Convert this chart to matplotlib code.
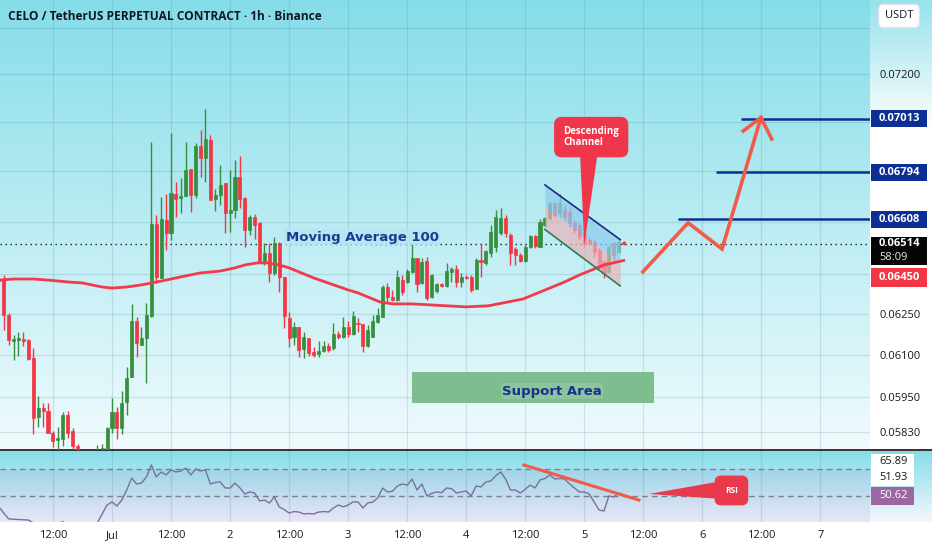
import numpy as np
import matplotlib
matplotlib.use("Agg")
import matplotlib.pyplot as plt
from matplotlib.patches import Polygon, Rectangle
from matplotlib.ticker import NullLocator

plt.rcParams['font.family'] = ['Open Sans', 'DejaVu Sans']

# ---------------- data (hourly candles, t = hours from Jul 1 00:00) ----------------
first_hour = -23
opens = [0.06372, 0.06376, 0.06246, 0.06151, 0.06155, 0.06158, 0.06155, 0.06090,
         0.05881, 0.05913, 0.05902, 0.05826, 0.05802, 0.05806, 0.05888, 0.05833,
         0.05782, 0.05741, 0.05727, 0.05751, 0.05761, 0.05764, 0.05761, 0.05844,
         0.05899, 0.05844, 0.05934, 0.06022, 0.06224, 0.06137, 0.06162, 0.06243,
         0.06591, 0.06384, 0.06606, 0.06555, 0.06708, 0.06692, 0.06700, 0.06808,
         0.06704, 0.06901, 0.06852, 0.06925, 0.06688, 0.06704, 0.06752, 0.06633,
         0.06645, 0.06776, 0.06692, 0.06567, 0.06618, 0.06595, 0.06444, 0.06479,
         0.06403, 0.06517, 0.06388, 0.06235, 0.06166, 0.06202, 0.06122, 0.06162,
         0.06111, 0.06104, 0.06115, 0.06133, 0.06126, 0.06177, 0.06166, 0.06202,
         0.06177, 0.06217, 0.06213, 0.06133, 0.06166, 0.06220, 0.06239, 0.06350,
         0.06313, 0.06302, 0.06376, 0.06369, 0.06407, 0.06460, 0.06365, 0.06448,
         0.06313, 0.06335, 0.06361, 0.06354, 0.06407, 0.06418, 0.06369, 0.06388,
         0.06388, 0.06343, 0.06452, 0.06441, 0.06479, 0.06502, 0.06555, 0.06614,
         0.06548, 0.06494, 0.06471, 0.06448, 0.06502, 0.06544, 0.06502, 0.06587,
         0.06614, 0.06673, 0.06633, 0.06645, 0.06637, 0.06598, 0.06587, 0.06555,
         0.06529, 0.06521, 0.06490, 0.06444, 0.06407, 0.06517, 0.06483, 0.06521]
highs = [0.06388, 0.06395, 0.06253, 0.06173, 0.06184, 0.06184, 0.06158, 0.06126,
         0.05955, 0.05930, 0.05930, 0.05833, 0.05847, 0.05899, 0.05902, 0.05844,
         0.05788, 0.05761, 0.05761, 0.05768, 0.05785, 0.05788, 0.05847, 0.05948,
         0.05916, 0.05972, 0.06058, 0.06287, 0.06239, 0.06202, 0.06291, 0.06917,
         0.06626, 0.06696, 0.06708, 0.06954, 0.06756, 0.06772, 0.06917, 0.06808,
         0.06913, 0.06966, 0.07051, 0.06946, 0.06728, 0.06824, 0.06752, 0.06804,
         0.06844, 0.06860, 0.06696, 0.06626, 0.06630, 0.06598, 0.06517, 0.06517,
         0.06540, 0.06521, 0.06388, 0.06257, 0.06220, 0.06202, 0.06184, 0.06162,
         0.06129, 0.06151, 0.06151, 0.06144, 0.06217, 0.06188, 0.06239, 0.06224,
         0.06261, 0.06235, 0.06213, 0.06209, 0.06246, 0.06272, 0.06358, 0.06365,
         0.06339, 0.06414, 0.06395, 0.06418, 0.06517, 0.06460, 0.06460, 0.06463,
         0.06399, 0.06365, 0.06365, 0.06441, 0.06425, 0.06433, 0.06403, 0.06395,
         0.06395, 0.06460, 0.06517, 0.06490, 0.06587, 0.06645, 0.06653, 0.06626,
         0.06555, 0.06502, 0.06479, 0.06509, 0.06548, 0.06548, 0.06610, 0.06618,
         0.06677, 0.06677, 0.06708, 0.06665, 0.06657, 0.06606, 0.06598, 0.06567,
         0.06540, 0.06529, 0.06498, 0.06452, 0.06509, 0.06521, 0.06529, 0.06525]
lows = [0.06365, 0.06191, 0.06137, 0.06083, 0.06097, 0.06133, 0.06083, 0.05823,
        0.05847, 0.05847, 0.05826, 0.05778, 0.05768, 0.05782, 0.05809, 0.05751,
        0.05727, 0.05707, 0.05700, 0.05717, 0.05734, 0.05748, 0.05751, 0.05826,
        0.05806, 0.05823, 0.05888, 0.06022, 0.06093, 0.06137, 0.06001, 0.06239,
        0.06365, 0.06384, 0.06490, 0.06529, 0.06618, 0.06633, 0.06700, 0.06637,
        0.06692, 0.06776, 0.06756, 0.06684, 0.06641, 0.06665, 0.06555, 0.06559,
        0.06614, 0.06653, 0.06502, 0.06548, 0.06532, 0.06441, 0.06433, 0.06369,
        0.06395, 0.06331, 0.06198, 0.06129, 0.06137, 0.06093, 0.06090, 0.06097,
        0.06093, 0.06093, 0.06111, 0.06111, 0.06118, 0.06158, 0.06162, 0.06166,
        0.06173, 0.06184, 0.06111, 0.06129, 0.06166, 0.06217, 0.06239, 0.06294,
        0.06298, 0.06298, 0.06320, 0.06365, 0.06403, 0.06331, 0.06361, 0.06302,
        0.06309, 0.06328, 0.06350, 0.06350, 0.06369, 0.06350, 0.06350, 0.06380,
        0.06331, 0.06343, 0.06388, 0.06433, 0.06463, 0.06483, 0.06548, 0.06540,
        0.06433, 0.06433, 0.06444, 0.06444, 0.06498, 0.06498, 0.06502, 0.06579,
        0.06606, 0.06618, 0.06618, 0.06606, 0.06579, 0.06555, 0.06529, 0.06502,
        0.06509, 0.06463, 0.06414, 0.06384, 0.06403, 0.06452, 0.06479, 0.06509]
closes = [0.06380, 0.06246, 0.06155, 0.06158, 0.06162, 0.06151, 0.06086, 0.05878,
          0.05913, 0.05902, 0.05826, 0.05799, 0.05809, 0.05888, 0.05826, 0.05782,
          0.05741, 0.05727, 0.05751, 0.05761, 0.05768, 0.05775, 0.05844, 0.05899,
          0.05844, 0.05930, 0.06018, 0.06224, 0.06144, 0.06162, 0.06246, 0.06591,
          0.06388, 0.06610, 0.06555, 0.06712, 0.06688, 0.06700, 0.06804, 0.06704,
          0.06901, 0.06852, 0.06929, 0.06684, 0.06704, 0.06744, 0.06633, 0.06645,
          0.06776, 0.06688, 0.06567, 0.06618, 0.06587, 0.06444, 0.06479, 0.06403,
          0.06517, 0.06388, 0.06243, 0.06162, 0.06202, 0.06118, 0.06166, 0.06107,
          0.06100, 0.06115, 0.06133, 0.06118, 0.06177, 0.06166, 0.06202, 0.06177,
          0.06243, 0.06213, 0.06133, 0.06191, 0.06224, 0.06246, 0.06350, 0.06313,
          0.06302, 0.06388, 0.06331, 0.06410, 0.06460, 0.06361, 0.06444, 0.06309,
          0.06395, 0.06361, 0.06354, 0.06410, 0.06418, 0.06369, 0.06388, 0.06384,
          0.06339, 0.06452, 0.06444, 0.06486, 0.06559, 0.06618, 0.06614, 0.06555,
          0.06479, 0.06471, 0.06448, 0.06502, 0.06544, 0.06506, 0.06598, 0.06614,
          0.06673, 0.06626, 0.06673, 0.06618, 0.06595, 0.06567, 0.06540, 0.06517,
          0.06517, 0.06483, 0.06422, 0.06403, 0.06502, 0.06471, 0.06521, 0.06514]

# moving average 100
ma_hours = [-23, -20, -16, -13, -9, -6, -2, 0, 3, 6, 8, 11, 14, 18, 22, 25, 27, 29.5,
            31.5, 34, 36, 41, 48, 50, 54.5, 57, 61, 68, 72, 76.5, 83.5, 89, 92, 95, 100, 104]
ma_vals = [0.06376, 0.06380, 0.06380, 0.06376, 0.06369, 0.06365, 0.06350, 0.06346,
           0.06350, 0.06358, 0.06365, 0.06376, 0.06388, 0.06403, 0.06410, 0.06422,
           0.06433, 0.06441, 0.06441, 0.06433, 0.06422, 0.06384, 0.06339, 0.06328,
           0.06294, 0.06287, 0.06287, 0.06280, 0.06276, 0.06280, 0.06305, 0.06346,
           0.06369, 0.06395, 0.06433, 0.06450]

# RSI
rsi_hours = [-23, -21, -17, -15, -13, -10, -8, -5, -3, -1, 0, 1, 2, 3, 4, 5, 6, 7, 8, 9,
             10, 11, 12, 13, 14, 15, 16, 17, 18, 19, 20, 21, 22, 23, 24, 25, 26, 27, 28,
             29, 30, 31, 32, 33, 34, 35, 36, 37, 38, 39, 40, 41, 42, 43, 44, 45, 46, 47,
             48, 49, 50, 51, 52, 53, 54, 55, 56, 57, 58, 59, 60, 61, 62, 63, 64, 65, 66,
             67, 68, 69, 70, 71, 72, 73, 74, 75, 76, 77, 78, 79, 80, 81, 82, 83, 84, 85,
             86, 87, 88, 89, 90, 91, 92, 93, 94, 95, 96, 97, 98, 99, 100, 101, 102, 103, 104]
rsi_vals = [41.9, 33.0, 32.2, 28.0, 25.0, 31.0, 24.0, 20.0, 30.0, 43.3, 45.6, 42.6, 47.0,
            54.4, 63.3, 58.9, 59.6, 64.1, 73.0, 64.1, 67.8, 65.6, 69.3, 67.8, 68.5, 70.7,
            65.6, 70.0, 68.5, 69.3, 58.9, 60.0, 60.4, 55.9, 55.9, 59.6, 56.0, 51.5, 53.0,
            52.2, 46.3, 47.0, 44.8, 49.3, 41.9, 40.0, 37.4, 38.5, 38.1, 36.7, 37.0, 36.7,
            38.1, 38.5, 38.1, 41.1, 43.3, 42.0, 43.3, 45.6, 45.6, 41.1, 44.8, 45.5, 48.5,
            55.9, 53.0, 53.5, 57.4, 58.9, 58.0, 62.6, 54.4, 58.9, 50.0, 52.0, 53.0, 52.5,
            55.9, 55.5, 52.2, 53.0, 53.7, 50.0, 57.4, 56.7, 60.4, 61.1, 65.0, 67.8, 62.6,
            54.4, 54.4, 52.2, 55.0, 58.1, 55.9, 61.9, 63.0, 65.6, 62.6, 63.0, 62.6, 59.0,
            55.9, 53.0, 53.0, 51.5, 45.6, 39.6, 38.9, 50.0, 49.3, 52.2, 50.62]

# drawings
target_prices = [0.07013, 0.06794, 0.06608]
target_start = [127.8, 122.8, 115.0]
path_hours = [107.9, 117.1, 124.0, 131.9]
path_prices = [0.06407, 0.06595, 0.06494, 0.07017]
head_hours = [128.3, 131.9, 134.1]
head_prices = [0.06962, 0.07017, 0.06929]
chan_hours = [88.0, 103.3]
chan_upper = [0.06744, 0.06530]
chan_mid = [0.06658, 0.06439]
chan_lower = [0.06569, 0.06354]
support_hours = [61.0, 110.2]
support_prices = [0.05930, 0.06040]
last_price = 0.06514
rsi_trend_hours = [83.7, 107.1]
rsi_trend_vals = [73.0, 47.0]

price_ticks = [0.0740, 0.0720, 0.0700, 0.0680, 0.0660, 0.0640, 0.0625, 0.0610, 0.0595, 0.0583]
price_ticklabels = ['', '0.07200', '', '', '', '', '0.06250', '0.06100', '0.05950', '0.05830']
time_ticks = [-12, 0, 12, 24, 36, 48, 60, 72, 84, 96, 108, 120, 132, 144]
time_labels = ['12:00', 'Jul', '12:00', '2', '12:00', '3', '12:00', '4', '12:00', '5',
               '12:00', '6', '12:00', '7']

GREEN = '#358f3d'
RED = '#f23645'
NAVY = '#0d2f94'
CORAL = '#f15b47'
TXT = '#131722'

W, H = 932, 550
fig = plt.figure(figsize=(W / 100, H / 100), dpi=100)

# ---------------- background ----------------
def vgrad(n, c0, c1):
    f = np.linspace(0, 1, n)[:, None]
    c0 = np.array(c0) / 255.0
    c1 = np.array(c1) / 255.0
    return (c0 + (c1 - c0) * f)[:, None, :]

bg = np.ones((H, W, 3))
bg[0:450, 0:870] = vgrad(450, (133, 221, 233), (240, 251, 253))
bg[0:130, 870:] = vgrad(130, (150, 226, 237), (255, 255, 255))
bg[451:522, :] = vgrad(71, (133, 221, 233), (246, 247, 252))
bg[449:451, :] = np.array([58, 52, 55]) / 255.0
bgax = fig.add_axes([0, 0, 1, 1], zorder=-5)
bgax.imshow(bg, aspect='auto', interpolation='nearest')
bgax.axis('off')

# ---------------- main pane ----------------
ax = fig.add_axes([0, 100 / H, 870 / W, 450 / H])
ax.set_facecolor('none')
ax.set_yscale('log')
ax.set_xlim(-22.76, 154.07)
ax.set_ylim(0.05768, 0.075211)
for s in ax.spines.values():
    s.set_visible(False)

ax.yaxis.tick_right()
ax.set_yticks(price_ticks)
ax.set_yticklabels(price_ticklabels)
ax.yaxis.set_minor_locator(NullLocator())
ax.set_xticks(time_ticks)
ax.tick_params(axis='y', length=0, pad=6.5, labelsize=8, labelcolor=TXT)
ax.tick_params(axis='x', length=0, labelbottom=False)
ax.grid(True, color='#3f6f80', alpha=0.16, lw=0.9, zorder=0)

hours = np.arange(len(opens)) + first_hour
o = np.array(opens)
c = np.array(closes)
cols = [GREEN if cc >= oo else RED for oo, cc in zip(o, c)]
ax.vlines(hours, lows, highs, colors=cols, lw=1, zorder=3)
ax.bar(hours, np.abs(c - o), bottom=np.minimum(o, c), width=0.62, color=cols,
       edgecolor=cols, linewidth=0.5, zorder=3)

# descending channel
ax.fill_between(chan_hours, chan_mid, chan_upper, color='#8fcdee', alpha=0.75, lw=0, zorder=3.5)
ax.fill_between(chan_hours, chan_lower, chan_mid, color='#e9b3ba', alpha=0.7, lw=0, zorder=3.5)
ax.plot(chan_hours, chan_upper, color='#1a2a8a', lw=1.2, zorder=5)
ax.plot(chan_hours, chan_lower, color='#2e7d4f', lw=1.2, zorder=5)

ax.plot(ma_hours, ma_vals, color='#ef3b4c', lw=2, zorder=4)
ax.axhline(last_price, color='#1a1a1a', lw=1, ls=(0, (1, 2.6)), zorder=2)

# support area
ax.fill_between(support_hours, support_prices[0], support_prices[1], color='#7ebd8d', lw=0, zorder=2)
ax.text(89.4, 0.05972, 'Support Area', ha='center', va='center',
        fontsize=9.5, fontweight='bold', color='#1b2f8f', family='DejaVu Sans', zorder=6,
        bbox=dict(boxstyle='square,pad=0.1', fc='#8cc49c', ec='none'))

ax.text(50.9, 0.06540, 'Moving Average 100', ha='center', va='center', fontsize=9.5,
        fontweight='bold', color='#1c3a94', family='DejaVu Sans', zorder=6,
        bbox=dict(boxstyle='square,pad=0.12', fc='#b8e4f0', ec='none', alpha=0.85))

# targets and projected path
ax.hlines(target_prices, target_start, 154.07, color=NAVY, lw=1.8, zorder=6)
ax.plot(path_hours, path_prices, color=CORAL, lw=2.6, solid_joinstyle='miter', zorder=6)
ax.plot(head_hours, head_prices, color=CORAL, lw=2.6, solid_joinstyle='miter', zorder=6)

# descending channel callout
ax.add_patch(Polygon([(95.1, 0.06884), (98.8, 0.06884), (96.0, 0.06509)], closed=True,
                     fc='#f0364a', ec='none', zorder=7))
ax.text(97.4, 0.06937, 'Descending\nChannel', ha='center', va='center', fontsize=7,
        fontweight='bold', color='white', linespacing=1.0, multialignment='left', zorder=8,
        bbox=dict(boxstyle='round,pad=0.95,rounding_size=0.8', fc='#f0364a', ec='none'))

# ---------------- RSI pane ----------------
ar = fig.add_axes([0, 28 / H, 870 / W, 71 / H])
ar.set_facecolor('none')
ar.set_xlim(-22.76, 154.07)
ar.set_ylim(30.74, 83.33)
for s in ar.spines.values():
    s.set_visible(False)
ar.set_yticks([])
ar.set_xticks(time_ticks)
ar.set_xticklabels(time_labels)
ar.tick_params(axis='x', length=0, pad=6, labelsize=8, labelcolor=TXT)
ar.grid(True, axis='x', color='#3f6f80', alpha=0.16, lw=0.9, zorder=0)
ar.axhspan(30, 70, color='#7e57c2', alpha=0.1, lw=0, zorder=0.5)
ar.axhline(70, color='#7d7f8c', lw=1, ls=(0, (4, 3)), zorder=1)
ar.axhline(50, color='#7d7f8c', lw=1, ls=(0, (4, 3)), zorder=1)
ar.plot(rsi_hours, rsi_vals, color='#7a7197', lw=1, zorder=3)
ar.plot(rsi_trend_hours, rsi_trend_vals, color=CORAL, lw=2.2, zorder=4)
ar.add_patch(Polygon([(109.1, 51.5), (124.0, 61.1), (124.0, 47.8)], closed=True,
                     fc='#e83a4c', ec='none', zorder=5))
ar.text(125.9, 54.1, 'RSI', ha='center', va='center', fontsize=6, fontweight='bold',
        color='white', zorder=6,
        bbox=dict(boxstyle='round,pad=1.25,rounding_size=0.8', fc='#e83a4c', ec='none'))

# ---------------- right scale tags ----------------
def tag(ytop, h, text, fc, tc, x0=871, x1=927, ty=None, bold=True):
    fig.add_artist(Rectangle((x0 / W, 1 - (ytop + h) / H), (x1 - x0) / W, h / H,
                             transform=fig.transFigure, fc=fc, ec='none'))
    fig.text(879 / W, 1 - (ytop + h / 2 if ty is None else ty) / H, text, color=tc,
             ha='left', va='center', fontsize=8, fontweight='bold' if bold else 'normal')

def price_y(p):
    return H - ax.transData.transform((0, p))[1]

for p in target_prices:
    yc = price_y(p)
    tag(yc - 8.5, 17, '%.5f' % p, NAVY, 'white')
yc = price_y(last_price)
tag(yc - 7, 28, '%.5f' % last_price, '#050505', 'white', ty=yc)
fig.text(879 / W, 1 - (yc + 14) / H, '58:09', color='#e8e8e8', ha='left', va='center', fontsize=8)
yc = price_y(ma_vals[-1])
tag(yc + 7, 19, '%.5f' % ma_vals[-1], RED, 'white')

tag(454, 16, '65.89', 'white', TXT, x1=914, bold=False)
tag(470, 16, '51.93', 'white', TXT, x1=914, bold=False)
tag(487, 18, '%.2f' % rsi_vals[-1], '#9b66a1', 'white', x1=914, bold=False)

fig.text(899 / W, 1 - 16 / H, 'USDT', ha='center', va='center', fontsize=8, color=TXT,
         bbox=dict(boxstyle='round,pad=0.55,rounding_size=0.4', fc='white', ec='#e0e3eb'))
fig.text(8 / W, 1 - 16 / H, 'CELO / TetherUS PERPETUAL CONTRACT · 1h · Binance',
         ha='left', va='center', fontsize=8.6, fontweight='bold', color=TXT)

fig.savefig('out.png', dpi=100)
